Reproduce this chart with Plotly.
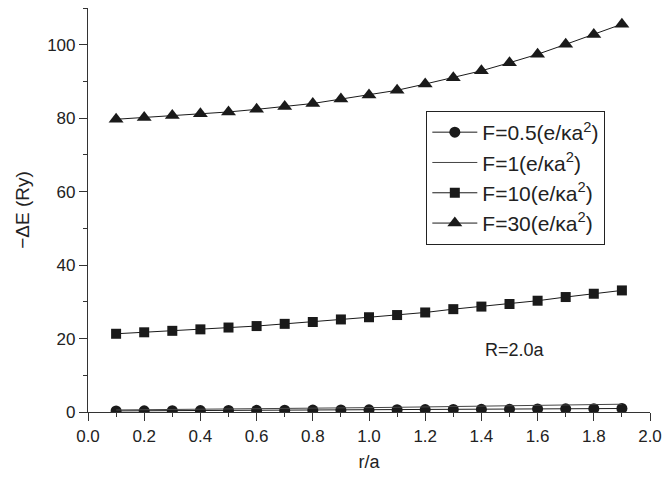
import plotly.graph_objects as go

r = [0.1, 0.2, 0.3, 0.4, 0.5, 0.6, 0.7, 0.8, 0.9, 1.0,
     1.1, 1.2, 1.3, 1.4, 1.5, 1.6, 1.7, 1.8, 1.9]

f05 = [0.30, 0.33, 0.36, 0.39, 0.42, 0.45, 0.48, 0.52, 0.55, 0.59,
       0.62, 0.66, 0.70, 0.74, 0.78, 0.82, 0.86, 0.90, 0.95]
f1 = [0.55, 0.60, 0.66, 0.72, 0.79, 0.86, 0.94, 1.02, 1.10, 1.19,
      1.28, 1.37, 1.47, 1.57, 1.67, 1.78, 1.89, 2.00, 2.12]
f10 = [21.3, 21.7, 22.1, 22.5, 23.0, 23.4, 24.0, 24.5, 25.2, 25.8,
       26.4, 27.1, 28.0, 28.7, 29.4, 30.3, 31.3, 32.2, 33.1]
f30 = [79.7, 80.2, 80.7, 81.2, 81.7, 82.4, 83.2, 84.0, 85.2, 86.3,
       87.6, 89.3, 91.0, 92.9, 95.1, 97.4, 100.1, 102.8, 105.6]

names = ["F=0.5(e/κa<sup>2</sup>)", "F=1(e/κa<sup>2</sup>)",
         "F=10(e/κa<sup>2</sup>)", "F=30(e/κa<sup>2</sup>)"]

FONT = "Arial, Liberation Sans, sans-serif"
ink = "#1a1a1a"

fig = go.Figure()
fig.add_trace(go.Scatter(x=r, y=f05, name=names[0], mode="lines+markers",
                         line=dict(color=ink, width=1),
                         marker=dict(symbol="circle", size=11, color=ink)))
fig.add_trace(go.Scatter(x=r, y=f1, name=names[1], mode="lines",
                         line=dict(color="#444444", width=1)))
fig.add_trace(go.Scatter(x=r, y=f10, name=names[2], mode="lines+markers",
                         line=dict(color=ink, width=1),
                         marker=dict(symbol="square", size=10, color=ink)))
fig.add_trace(go.Scatter(x=r, y=f30, name=names[3], mode="lines+markers",
                         line=dict(color=ink, width=1),
                         marker=dict(symbol="triangle-up", size=13, color=ink)))

fig.add_annotation(x=1.52, y=17, text="R=2.0a", showarrow=False,
                   font=dict(size=18, color="#222", family=FONT))

# y axis extends slightly below the x axis
fig.add_shape(type="line", xref="paper", yref="y", x0=0, x1=0,
              ysizemode="pixel", yanchor=0, y0=-9, y1=0,
              line=dict(color="#333", width=1.2))

fig.update_layout(
    width=670, height=479,
    margin=dict(l=88, r=12, t=8, b=67),
    paper_bgcolor="white", plot_bgcolor="white",
    font=dict(family=FONT, size=17, color="#222"),
    showlegend=True,
    legend=dict(x=0.602, y=0.745, xanchor="left", yanchor="top",
                bordercolor="#222", borderwidth=1, bgcolor="white",
                font=dict(size=21, family=FONT, color="#222"),
                tracegroupgap=0, itemwidth=45),
    xaxis=dict(range=[0, 2.0], dtick=0.2, tickformat=".1f",
               showline=True, linecolor="#333", linewidth=1.2,
               ticks="outside", ticklen=8, tickcolor="#333",
               minor=dict(dtick=0.1, ticks="outside", ticklen=4, tickcolor="#333"),
               showgrid=False, zeroline=False,
               title=dict(text="r/a", font=dict(size=18), standoff=10),
               tickfont=dict(size=17)),
    yaxis=dict(range=[0, 110], dtick=20,
               showline=True, linecolor="#333", linewidth=1.2,
               ticks="outside", ticklen=8, tickcolor="#333",
               minor=dict(dtick=10, ticks="outside", ticklen=4, tickcolor="#333"),
               showgrid=False, zeroline=False,
               title=dict(text="−ΔE (Ry)", font=dict(size=19), standoff=12),
               tickfont=dict(size=17)),
)

fig.write_html("out.html")
